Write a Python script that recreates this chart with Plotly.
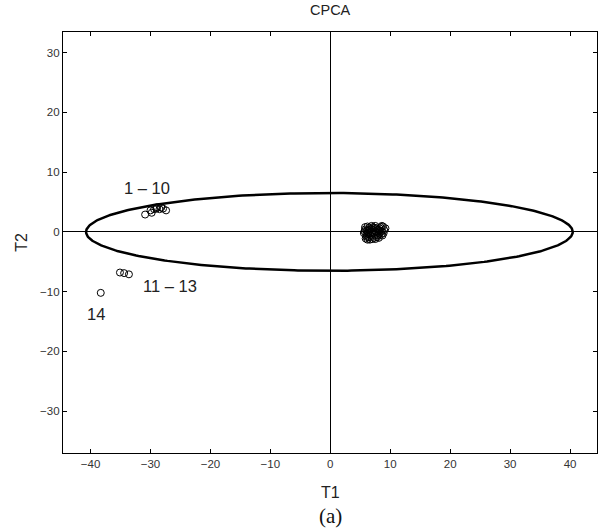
import numpy as np
import plotly.graph_objects as go

# Score groups on the first two consensus components
group_a_t1 = [-30.9, -30.0, -29.4, -28.9, -28.5, -28.2, -27.9, -27.4, -29.8, -29.0]
group_a_t2 = [2.9, 3.6, 3.8, 4.1, 3.8, 4.1, 3.9, 3.6, 3.2, 3.9]

group_b_t1 = [-35.1, -34.4, -33.6]
group_b_t2 = [-6.8, -6.9, -7.1]

group_c_t1 = [-38.3]
group_c_t2 = [-10.2]

cluster_t1 = [5.6, 5.8, 6.0, 6.1, 5.9, 6.3, 6.5, 6.2, 6.7, 6.9, 7.0, 6.6, 7.2, 7.4,
              7.1, 7.6, 7.8, 7.5, 8.0, 8.2, 8.4, 8.1, 8.6, 8.8, 9.0, 8.7, 9.2, 6.4,
              6.8, 7.3, 7.7, 8.3, 5.7, 6.0, 6.4, 7.0, 7.5, 8.0, 8.5, 6.2, 6.9, 7.9,
              8.9, 7.2, 6.6, 5.8, 6.3, 7.4, 8.2, 8.6]
cluster_t2 = [-0.2, 0.4, -0.8, 0.2, -1.1, -0.4, 0.7, 0.9, -0.1, 0.5, -1.2, -1.3, 0.3, -0.5,
              0.8, 0.1, -0.9, 1.0, 0.4, -0.3, 0.8, -1.0, 0.1, 0.9, 0.3, -0.6, 0.6, -0.9,
              -0.7, -1.0, 0.6, 0.2, 0.1, -0.5, 0.3, 0.0, -1.2, -0.1, -0.4, -1.3, 1.0, -0.6,
              -0.2, -0.2, 0.4, 0.8, -0.1, 0.7, 0.6, 1.0]

# Confidence ellipse: centre and semi-axes
ellipse_center = (-0.15, 0.0)
ellipse_axes = (40.6, 6.5)

group_labels = ["1 \u2013 10", "11 \u2013 13", "14"]
label_t1 = [-30.6, -26.8, -39.1]
label_t2 = [7.3, -9.0, -13.7]

x_ticks = [-40, -30, -20, -10, 0, 10, 20, 30, 40]
y_ticks = [-30, -20, -10, 0, 10, 20, 30]

theta = np.linspace(0, 2 * np.pi, 400)
ex = ellipse_center[0] + ellipse_axes[0] * np.cos(theta)
ey = ellipse_center[1] + ellipse_axes[1] * np.sin(theta)

marker_style = dict(symbol="circle-open", size=7, color="black", line=dict(width=1, color="black"))

fig = go.Figure()
fig.add_trace(go.Scatter(x=ex, y=ey, mode="lines", line=dict(color="black", width=2.5),
                         hoverinfo="skip"))
for xs, ys in [(cluster_t1, cluster_t2), (group_a_t1, group_a_t2),
               (group_b_t1, group_b_t2), (group_c_t1, group_c_t2)]:
    fig.add_trace(go.Scatter(x=xs, y=ys, mode="markers", marker=marker_style))

font_main = "Liberation Sans, Arial, sans-serif"

for txt, lx, ly in zip(group_labels, label_t1, label_t2):
    fig.add_annotation(x=lx, y=ly, text=txt, showarrow=False,
                       font=dict(family=font_main, size=16.5, color="#222"))

fig.add_annotation(xref="paper", yref="paper", x=0.5, y=1.052, text="CPCA", showarrow=False,
                   font=dict(family=font_main, size=14.5, color="#222"), yanchor="middle")
fig.add_annotation(xref="paper", yref="paper", x=0.5, y=-0.093, text="T1", showarrow=False,
                   font=dict(family=font_main, size=16, color="#222"), yanchor="middle")
fig.add_annotation(xref="paper", yref="paper", x=-0.078, y=0.5, text="T2", showarrow=False,
                   textangle=-90, font=dict(family=font_main, size=16, color="#222"),
                   xanchor="center", yanchor="middle")
fig.add_annotation(xref="paper", yref="paper", x=0.5, y=-0.15, text="(a)", showarrow=False,
                   font=dict(family="Liberation Serif, Times New Roman, serif", size=21, color="#111"),
                   yanchor="middle")

axis_common = dict(
    showgrid=False, zeroline=True, zerolinecolor="black", zerolinewidth=1,
    showline=True, linecolor="black", linewidth=1.3, mirror="ticks",
    ticks="inside", ticklen=4, tickcolor="black", tickwidth=1,
    tickfont=dict(family=font_main, size=11.5, color="#333"),
)

fig.update_xaxes(range=[-44.6, 44.5], tickvals=x_ticks, **axis_common)
fig.update_yaxes(range=[-37.0, 33.45], tickvals=y_ticks, **axis_common)

fig.update_layout(
    width=603, height=528,
    margin=dict(l=63, r=6, t=32, b=75),
    plot_bgcolor="white", paper_bgcolor="white",
    showlegend=False,
)

fig.write_html("out.html")
